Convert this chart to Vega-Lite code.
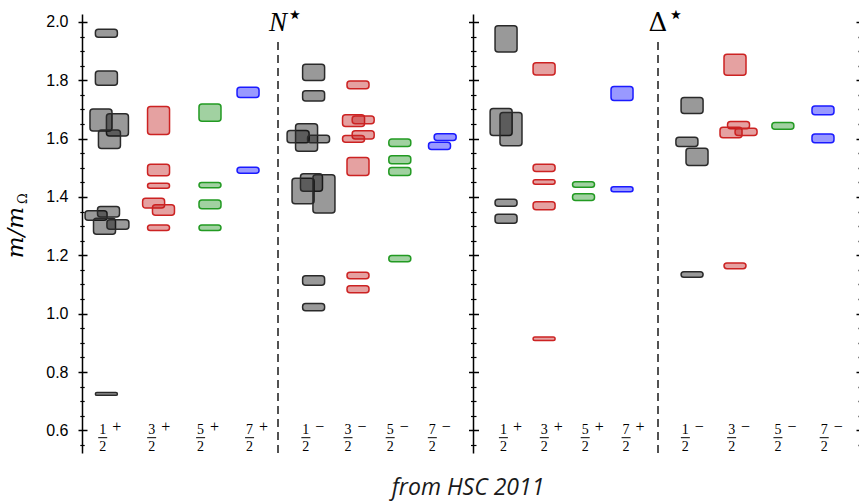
{
  "$schema": "https://vega.github.io/schema/vega-lite/v6.json",
  "autosize": {"type": "pad"},
  "padding": {"left": 4, "top": 1, "right": 0, "bottom": 0},
  "background": "white",
  "datasets": {
    "boxes": [
      {"grp": "N+", "J": "1/2", "lo": 1.948, "hi": 1.975, "nudge": -0.14},
      {"grp": "N+", "J": "1/2", "lo": 1.783, "hi": 1.832, "nudge": -0.14},
      {"grp": "N+", "J": "1/2", "lo": 1.626, "hi": 1.702, "nudge": -0.37},
      {"grp": "N+", "J": "1/2", "lo": 1.609, "hi": 1.685, "nudge": 0.33},
      {"grp": "N+", "J": "1/2", "lo": 1.566, "hi": 1.63, "nudge": -0.01},
      {"grp": "N+", "J": "1/2", "lo": 1.32, "hi": 1.353, "nudge": -0.58},
      {"grp": "N+", "J": "1/2", "lo": 1.331, "hi": 1.367, "nudge": -0.05},
      {"grp": "N+", "J": "1/2", "lo": 1.272, "hi": 1.327, "nudge": -0.22},
      {"grp": "N+", "J": "1/2", "lo": 1.289, "hi": 1.322, "nudge": 0.35},
      {"grp": "N+", "J": "1/2", "lo": 0.72, "hi": 0.73, "nudge": -0.14},
      {"grp": "N+", "J": "3/2", "lo": 1.614, "hi": 1.71, "nudge": 0.06},
      {"grp": "N+", "J": "3/2", "lo": 1.473, "hi": 1.512, "nudge": 0.06},
      {"grp": "N+", "J": "3/2", "lo": 1.43, "hi": 1.447, "nudge": 0.06},
      {"grp": "N+", "J": "3/2", "lo": 1.362, "hi": 1.396, "nudge": -0.15},
      {"grp": "N+", "J": "3/2", "lo": 1.337, "hi": 1.373, "nudge": 0.27},
      {"grp": "N+", "J": "3/2", "lo": 1.285, "hi": 1.304, "nudge": 0.06},
      {"grp": "N+", "J": "5/2", "lo": 1.66, "hi": 1.719, "nudge": 0.23},
      {"grp": "N+", "J": "5/2", "lo": 1.432, "hi": 1.45, "nudge": 0.23},
      {"grp": "N+", "J": "5/2", "lo": 1.36, "hi": 1.39, "nudge": 0.23},
      {"grp": "N+", "J": "5/2", "lo": 1.285, "hi": 1.304, "nudge": 0.23},
      {"grp": "N+", "J": "7/2", "lo": 1.741, "hi": 1.776, "nudge": -0.17},
      {"grp": "N+", "J": "7/2", "lo": 1.481, "hi": 1.502, "nudge": -0.17},

      {"grp": "N-", "J": "1/2", "lo": 1.799, "hi": 1.855, "nudge": -0.03},
      {"grp": "N-", "J": "1/2", "lo": 1.729, "hi": 1.764, "nudge": -0.03},
      {"grp": "N-", "J": "1/2", "lo": 1.586, "hi": 1.628, "nudge": -0.69},
      {"grp": "N-", "J": "1/2", "lo": 1.557, "hi": 1.651, "nudge": -0.33},
      {"grp": "N-", "J": "1/2", "lo": 1.586, "hi": 1.612, "nudge": 0.18},
      {"grp": "N-", "J": "1/2", "lo": 1.377, "hi": 1.464, "nudge": -0.48},
      {"grp": "N-", "J": "1/2", "lo": 1.42, "hi": 1.48, "nudge": -0.12},
      {"grp": "N-", "J": "1/2", "lo": 1.345, "hi": 1.476, "nudge": 0.41},
      {"grp": "N-", "J": "1/2", "lo": 1.097, "hi": 1.13, "nudge": -0.03},
      {"grp": "N-", "J": "1/2", "lo": 1.01, "hi": 1.035, "nudge": -0.03},
      {"grp": "N-", "J": "3/2", "lo": 1.771, "hi": 1.798, "nudge": 0.04},
      {"grp": "N-", "J": "3/2", "lo": 1.642, "hi": 1.682, "nudge": -0.15},
      {"grp": "N-", "J": "3/2", "lo": 1.651, "hi": 1.678, "nudge": 0.26},
      {"grp": "N-", "J": "3/2", "lo": 1.599, "hi": 1.627, "nudge": 0.26},
      {"grp": "N-", "J": "3/2", "lo": 1.588, "hi": 1.611, "nudge": -0.15},
      {"grp": "N-", "J": "3/2", "lo": 1.474, "hi": 1.535, "nudge": 0.04},
      {"grp": "N-", "J": "3/2", "lo": 1.12, "hi": 1.142, "nudge": 0.04},
      {"grp": "N-", "J": "3/2", "lo": 1.072, "hi": 1.096, "nudge": 0.04},
      {"grp": "N-", "J": "5/2", "lo": 1.573, "hi": 1.599, "nudge": 0},
      {"grp": "N-", "J": "5/2", "lo": 1.514, "hi": 1.541, "nudge": 0},
      {"grp": "N-", "J": "5/2", "lo": 1.474, "hi": 1.501, "nudge": 0},
      {"grp": "N-", "J": "5/2", "lo": 1.178, "hi": 1.199, "nudge": 0},
      {"grp": "N-", "J": "7/2", "lo": 1.594, "hi": 1.617, "nudge": 0.11},
      {"grp": "N-", "J": "7/2", "lo": 1.563, "hi": 1.588, "nudge": -0.13},

      {"grp": "D+", "J": "1/2", "lo": 1.897, "hi": 1.987, "nudge": 0.01},
      {"grp": "D+", "J": "1/2", "lo": 1.611, "hi": 1.703, "nudge": -0.2},
      {"grp": "D+", "J": "1/2", "lo": 1.576, "hi": 1.69, "nudge": 0.22},
      {"grp": "D+", "J": "1/2", "lo": 1.368, "hi": 1.392, "nudge": 0.01},
      {"grp": "D+", "J": "1/2", "lo": 1.31, "hi": 1.341, "nudge": 0.01},
      {"grp": "D+", "J": "3/2", "lo": 1.818, "hi": 1.86, "nudge": -0.02},
      {"grp": "D+", "J": "3/2", "lo": 1.487, "hi": 1.512, "nudge": -0.02},
      {"grp": "D+", "J": "3/2", "lo": 1.444, "hi": 1.459, "nudge": -0.02},
      {"grp": "D+", "J": "3/2", "lo": 1.356, "hi": 1.384, "nudge": -0.02},
      {"grp": "D+", "J": "3/2", "lo": 0.908, "hi": 0.92, "nudge": -0.02},
      {"grp": "D+", "J": "5/2", "lo": 1.433, "hi": 1.452, "nudge": 0.01},
      {"grp": "D+", "J": "5/2", "lo": 1.388, "hi": 1.411, "nudge": 0.01},
      {"grp": "D+", "J": "7/2", "lo": 1.731, "hi": 1.779, "nudge": 0},
      {"grp": "D+", "J": "7/2", "lo": 1.418, "hi": 1.435, "nudge": 0},

      {"grp": "D-", "J": "1/2", "lo": 1.686, "hi": 1.741, "nudge": 0},
      {"grp": "D-", "J": "1/2", "lo": 1.573, "hi": 1.605, "nudge": -0.22},
      {"grp": "D-", "J": "1/2", "lo": 1.508, "hi": 1.567, "nudge": 0.21},
      {"grp": "D-", "J": "1/2", "lo": 1.125, "hi": 1.144, "nudge": 0},
      {"grp": "D-", "J": "3/2", "lo": 1.817, "hi": 1.889, "nudge": -0.05},
      {"grp": "D-", "J": "3/2", "lo": 1.634, "hi": 1.659, "nudge": 0.1},
      {"grp": "D-", "J": "3/2", "lo": 1.603, "hi": 1.639, "nudge": -0.22},
      {"grp": "D-", "J": "3/2", "lo": 1.611, "hi": 1.636, "nudge": 0.42},
      {"grp": "D-", "J": "3/2", "lo": 1.154, "hi": 1.174, "nudge": -0.05},
      {"grp": "D-", "J": "5/2", "lo": 1.632, "hi": 1.655, "nudge": 0.11},
      {"grp": "D-", "J": "7/2", "lo": 1.682, "hi": 1.712, "nudge": -0.06},
      {"grp": "D-", "J": "7/2", "lo": 1.586, "hi": 1.616, "nudge": -0.06}
    ],
    "columns": [
      {"grp": "N+", "J": "1/2", "num": "1", "sign": "+"},
      {"grp": "N+", "J": "3/2", "num": "3", "sign": "+"},
      {"grp": "N+", "J": "5/2", "num": "5", "sign": "+"},
      {"grp": "N+", "J": "7/2", "num": "7", "sign": "+"},
      {"grp": "N-", "J": "1/2", "num": "1", "sign": "−"},
      {"grp": "N-", "J": "3/2", "num": "3", "sign": "−"},
      {"grp": "N-", "J": "5/2", "num": "5", "sign": "−"},
      {"grp": "N-", "J": "7/2", "num": "7", "sign": "−"},
      {"grp": "D+", "J": "1/2", "num": "1", "sign": "+"},
      {"grp": "D+", "J": "3/2", "num": "3", "sign": "+"},
      {"grp": "D+", "J": "5/2", "num": "5", "sign": "+"},
      {"grp": "D+", "J": "7/2", "num": "7", "sign": "+"},
      {"grp": "D-", "J": "1/2", "num": "1", "sign": "−"},
      {"grp": "D-", "J": "3/2", "num": "3", "sign": "−"},
      {"grp": "D-", "J": "5/2", "num": "5", "sign": "−"},
      {"grp": "D-", "J": "7/2", "num": "7", "sign": "−"}
    ]
  },
  "title": {
    "text": "from HSC 2011",
    "orient": "bottom",
    "anchor": "middle",
    "frame": "group",
    "dx": 386,
    "font": "Open Sans",
    "fontStyle": "italic",
    "fontWeight": "normal",
    "fontSize": 23,
    "color": "#1a1a1a",
    "offset": 23
  },
  "spacing": 0,
  "bounds": "flush",
  "hconcat": [
    {
      "width": 196,
      "height": 439,
      "layer": [
        {
          "data": {"name": "boxes"},
          "transform": [{"filter": "datum.grp === 'N+'"}],
          "mark": {"type": "bar", "orient": "vertical", "size": 22, "cornerRadius": 3, "fillOpacity": 0.4, "strokeWidth": 1.5},
          "encoding": {
            "x": {"field": "J", "type": "nominal", "scale": {"type": "point", "domain": ["1/2", "3/2", "5/2", "7/2"], "padding": 0.5653, "align": 0.516}, "axis": null},
            "xOffset": {"field": "nudge", "type": "quantitative", "scale": {"domain": [-1, 1], "range": [-23.5, 23.5]}},
            "y": {"field": "lo", "type": "quantitative", "scale": {"domain": [0.5223, 2.0274], "nice": false, "zero": false},
              "axis": {"orient": "left", "values": [0.6, 0.8, 1, 1.2, 1.4, 1.6, 1.8, 2], "format": ".1f", "domain": true, "domainWidth": 1.5, "domainColor": "#000", "ticks": false, "tickSize": 0, "labelPadding": 14, "labelFont": "Liberation Sans", "labelFontSize": 16, "labelColor": "#000", "grid": false,
                "title": "m/m", "titleFont": "DejaVu Serif", "titleFontStyle": "italic", "titleFontWeight": "normal", "titleFontSize": 23, "titlePadding": 18, "titleY": 218, "titleColor": "#000"}},
            "y2": {"field": "hi"},
            "fill": {"field": "J", "type": "nominal", "scale": {"domain": ["1/2", "3/2", "5/2", "7/2"], "range": ["#000000", "#be1414", "#148c14", "#0000ff"]}, "legend": null},
            "stroke": {"field": "J", "type": "nominal", "scale": {"domain": ["1/2", "3/2", "5/2", "7/2"], "range": ["#2a2a2a", "#cc2222", "#229a22", "#1a1aff"]}, "legend": null}
          }
        },
        {
          "data": {"name": "columns"},
          "transform": [{"filter": "datum.grp === 'N+'"}],
          "mark": {"type": "text", "font": "Liberation Serif", "fontSize": 14, "align": "center", "baseline": "alphabetic", "dx": -7.5, "color": "#000"},
          "encoding": {
            "x": {"field": "J", "type": "nominal", "scale": {"type": "point", "domain": ["1/2", "3/2", "5/2", "7/2"], "padding": 0.502, "align": 0.574}, "axis": null},
            "y": {"datum": 0.5875, "type": "quantitative", "scale": {"domain": [0.5223, 2.0274], "nice": false, "zero": false},
              "axis": {"orient": "left", "offset": -5, "values": [0.6, 0.8, 1, 1.2, 1.4, 1.6, 1.8, 2], "domain": false, "labels": false, "ticks": true, "tickSize": 9, "tickWidth": 1.5, "tickColor": "#000", "grid": false, "title": null}},
            "text": {"field": "num"}
          }
        },
        {
          "data": {"name": "columns"},
          "transform": [{"filter": "datum.grp === 'N+'"}],
          "mark": {"type": "tick", "orient": "horizontal", "size": 9, "thickness": 1, "xOffset": -7.5, "color": "#000", "opacity": 1},
          "encoding": {
            "x": {"field": "J", "type": "nominal", "scale": {"type": "point", "domain": ["1/2", "3/2", "5/2", "7/2"], "padding": 0.502, "align": 0.574}, "axis": null},
            "y": {"datum": 0.5748, "type": "quantitative", "scale": {"domain": [0.5223, 2.0274], "nice": false, "zero": false},
              "axis": {"orient": "left", "offset": -2.2, "values": [0.55, 0.65, 0.7, 0.75, 0.85, 0.9, 0.95, 1.05, 1.1, 1.15, 1.25, 1.3, 1.35, 1.45, 1.5, 1.55, 1.65, 1.7, 1.75, 1.85, 1.9, 1.95], "domain": false, "labels": false, "ticks": true, "tickSize": 4.4, "tickWidth": 1.2, "tickColor": "#000", "grid": false,
                "title": "Ω", "titleFont": "DejaVu Serif", "titleFontStyle": "normal", "titleFontWeight": "normal", "titleFontSize": 13, "titleX": -55, "titleY": 184, "titleBaseline": "bottom", "titleColor": "#000"}}
          }
        },
        {
          "data": {"name": "columns"},
          "transform": [{"filter": "datum.grp === 'N+'"}],
          "mark": {"type": "text", "font": "Liberation Serif", "fontSize": 14, "align": "center", "baseline": "alphabetic", "dx": -7.5, "color": "#000"},
          "encoding": {
            "x": {"field": "J", "type": "nominal", "scale": {"type": "point", "domain": ["1/2", "3/2", "5/2", "7/2"], "padding": 0.502, "align": 0.574}, "axis": null},
            "y": {"datum": 0.5291, "type": "quantitative", "scale": {"domain": [0.5223, 2.0274], "nice": false, "zero": false}, "axis": null},
            "text": {"value": "2"}
          }
        },
        {
          "data": {"name": "columns"},
          "transform": [{"filter": "datum.grp === 'N+'"}],
          "mark": {"type": "text", "font": "Liberation Serif", "fontSize": 16, "align": "center", "baseline": "alphabetic", "dx": 6.5, "color": "#000"},
          "encoding": {
            "x": {"field": "J", "type": "nominal", "scale": {"type": "point", "domain": ["1/2", "3/2", "5/2", "7/2"], "padding": 0.502, "align": 0.574}, "axis": null},
            "y": {"datum": 0.5926, "type": "quantitative", "scale": {"domain": [0.5223, 2.0274], "nice": false, "zero": false}, "axis": null},
            "text": {"field": "sign"}
          }
        }
      ],
      "resolve": {"scale": {"x": "independent"}, "axis": {"x": "independent", "y": "independent"}}
    },
    {
      "width": 195,
      "height": 439,
      "layer": [
        {
          "data": {"name": "boxes"},
          "transform": [{"filter": "datum.grp === 'N-'"}],
          "mark": {"type": "bar", "orient": "vertical", "size": 22, "cornerRadius": 3, "fillOpacity": 0.4, "strokeWidth": 1.5},
          "encoding": {
            "x": {"field": "J", "type": "nominal", "scale": {"type": "point", "domain": ["1/2", "3/2", "5/2", "7/2"], "padding": 0.7807, "align": 0.544}, "axis": null},
            "xOffset": {"field": "nudge", "type": "quantitative", "scale": {"domain": [-1, 1], "range": [-23.5, 23.5]}},
            "y": {"field": "lo", "type": "quantitative", "scale": {"domain": [0.5223, 2.0274], "nice": false, "zero": false},
              "axis": {"orient": "right", "domain": true, "domainWidth": 1.5, "domainColor": "#000", "ticks": false, "labels": false, "grid": false, "title": null}},
            "y2": {"field": "hi"},
            "fill": {"field": "J", "type": "nominal", "scale": {"domain": ["1/2", "3/2", "5/2", "7/2"], "range": ["#000000", "#be1414", "#148c14", "#0000ff"]}, "legend": null},
            "stroke": {"field": "J", "type": "nominal", "scale": {"domain": ["1/2", "3/2", "5/2", "7/2"], "range": ["#2a2a2a", "#cc2222", "#229a22", "#1a1aff"]}, "legend": null}
          }
        },
        {
          "data": {"name": "columns"},
          "transform": [{"filter": "datum.grp === 'N-'"}],
          "mark": {"type": "text", "font": "Liberation Serif", "fontSize": 14, "align": "center", "baseline": "alphabetic", "dx": -7.5, "color": "#000"},
          "encoding": {
            "x": {"field": "J", "type": "nominal", "scale": {"type": "point", "domain": ["1/2", "3/2", "5/2", "7/2"], "padding": 0.813, "align": 0.516}, "axis": null},
            "y": {"datum": 0.5875, "type": "quantitative", "scale": {"domain": [0.5223, 2.0274], "nice": false, "zero": false},
              "axis": {"orient": "right", "offset": -4.5, "values": [0.6, 0.8, 1, 1.2, 1.4, 1.6, 1.8, 2], "domain": false, "labels": false, "ticks": true, "tickSize": 10, "tickWidth": 1.5, "tickColor": "#000", "grid": false, "title": null}},
            "text": {"field": "num"}
          }
        },
        {
          "data": {"name": "columns"},
          "transform": [{"filter": "datum.grp === 'N-'"}],
          "mark": {"type": "tick", "orient": "horizontal", "size": 9, "thickness": 1, "xOffset": -7.5, "color": "#000", "opacity": 1},
          "encoding": {
            "x": {"field": "J", "type": "nominal", "scale": {"type": "point", "domain": ["1/2", "3/2", "5/2", "7/2"], "padding": 0.813, "align": 0.516}, "axis": null},
            "y": {"datum": 0.5748, "type": "quantitative", "scale": {"domain": [0.5223, 2.0274], "nice": false, "zero": false},
              "axis": {"orient": "right", "offset": -2.5, "values": [0.55, 0.65, 0.7, 0.75, 0.85, 0.9, 0.95, 1.05, 1.1, 1.15, 1.25, 1.3, 1.35, 1.45, 1.5, 1.55, 1.65, 1.7, 1.75, 1.85, 1.9, 1.95], "domain": false, "labels": false, "ticks": true, "tickSize": 5.5, "tickWidth": 1.2, "tickColor": "#000", "grid": false, "title": null}}
          }
        },
        {
          "data": {"name": "columns"},
          "transform": [{"filter": "datum.grp === 'N-'"}],
          "mark": {"type": "text", "font": "Liberation Serif", "fontSize": 14, "align": "center", "baseline": "alphabetic", "dx": -7.5, "color": "#000"},
          "encoding": {
            "x": {"field": "J", "type": "nominal", "scale": {"type": "point", "domain": ["1/2", "3/2", "5/2", "7/2"], "padding": 0.813, "align": 0.516}, "axis": null},
            "y": {"datum": 0.5291, "type": "quantitative", "scale": {"domain": [0.5223, 2.0274], "nice": false, "zero": false}, "axis": null},
            "text": {"value": "2"}
          }
        },
        {
          "data": {"name": "columns"},
          "transform": [{"filter": "datum.grp === 'N-'"}],
          "mark": {"type": "text", "font": "Liberation Serif", "fontSize": 16, "align": "center", "baseline": "alphabetic", "dx": 6.5, "color": "#000"},
          "encoding": {
            "x": {"field": "J", "type": "nominal", "scale": {"type": "point", "domain": ["1/2", "3/2", "5/2", "7/2"], "padding": 0.813, "align": 0.516}, "axis": null},
            "y": {"datum": 0.5926, "type": "quantitative", "scale": {"domain": [0.5223, 2.0274], "nice": false, "zero": false}, "axis": null},
            "text": {"field": "sign"}
          }
        },
        {
          "data": {"values": [{}]},
          "mark": {"type": "rule", "strokeDash": [8, 5], "strokeWidth": 1.5, "color": "#1a1a1a"},
          "encoding": {
            "x": {"datum": 0, "type": "quantitative", "scale": {"domain": [0, 1]}, "axis": null},
            "y": {"datum": 0.5223, "type": "quantitative", "scale": {"domain": [0.5223, 2.0274], "nice": false, "zero": false}, "axis": null},
            "y2": {"datum": 1.935}
          }
        },
        {
          "data": {"values": [{}]},
          "mark": {"type": "text", "font": "Liberation Serif", "fontStyle": "italic", "fontSize": 27, "align": "center", "baseline": "alphabetic", "color": "#000"},
          "encoding": {
            "x": {"datum": 0, "type": "quantitative", "scale": {"domain": [0, 1]}, "axis": null},
            "y": {"datum": 1.969, "type": "quantitative", "scale": {"domain": [0.5223, 2.0274], "nice": false, "zero": false}, "axis": null},
            "text": {"value": "N"}
          }
        },
        {
          "data": {"values": [{}]},
          "mark": {"type": "text", "font": "DejaVu Sans", "fontSize": 26, "align": "center", "baseline": "middle", "dx": 17, "color": "#000"},
          "encoding": {
            "x": {"datum": 0, "type": "quantitative", "scale": {"domain": [0, 1]}, "axis": null},
            "y": {"datum": 2.024, "type": "quantitative", "scale": {"domain": [0.5223, 2.0274], "nice": false, "zero": false}, "axis": null},
            "text": {"value": "⋆"}
          }
        }
      ],
      "resolve": {"scale": {"x": "independent"}, "axis": {"x": "independent", "y": "independent"}}
    },
    {
      "width": 185,
      "height": 439,
      "layer": [
        {
          "data": {"name": "boxes"},
          "transform": [{"filter": "datum.grp === 'D+'"}],
          "mark": {"type": "bar", "orient": "vertical", "size": 22, "cornerRadius": 3, "fillOpacity": 0.4, "strokeWidth": 1.5},
          "encoding": {
            "x": {"field": "J", "type": "nominal", "scale": {"type": "point", "domain": ["1/2", "3/2", "5/2", "7/2"], "padding": 0.888, "align": 0.477}, "axis": null},
            "xOffset": {"field": "nudge", "type": "quantitative", "scale": {"domain": [-1, 1], "range": [-23.5, 23.5]}},
            "y": {"field": "lo", "type": "quantitative", "scale": {"domain": [0.5223, 2.0274], "nice": false, "zero": false}, "axis": null},
            "y2": {"field": "hi"},
            "fill": {"field": "J", "type": "nominal", "scale": {"domain": ["1/2", "3/2", "5/2", "7/2"], "range": ["#000000", "#be1414", "#148c14", "#0000ff"]}, "legend": null},
            "stroke": {"field": "J", "type": "nominal", "scale": {"domain": ["1/2", "3/2", "5/2", "7/2"], "range": ["#2a2a2a", "#cc2222", "#229a22", "#1a1aff"]}, "legend": null}
          }
        },
        {
          "data": {"name": "columns"},
          "transform": [{"filter": "datum.grp === 'D+'"}],
          "mark": {"type": "text", "font": "Liberation Serif", "fontSize": 14, "align": "center", "baseline": "alphabetic", "dx": -7.5, "color": "#000"},
          "encoding": {
            "x": {"field": "J", "type": "nominal", "scale": {"type": "point", "domain": ["1/2", "3/2", "5/2", "7/2"], "padding": 0.762, "align": 0.608}, "axis": null},
            "y": {"datum": 0.5875, "type": "quantitative", "scale": {"domain": [0.5223, 2.0274], "nice": false, "zero": false}, "axis": null},
            "text": {"field": "num"}
          }
        },
        {
          "data": {"name": "columns"},
          "transform": [{"filter": "datum.grp === 'D+'"}],
          "mark": {"type": "tick", "orient": "horizontal", "size": 9, "thickness": 1, "xOffset": -7.5, "color": "#000", "opacity": 1},
          "encoding": {
            "x": {"field": "J", "type": "nominal", "scale": {"type": "point", "domain": ["1/2", "3/2", "5/2", "7/2"], "padding": 0.762, "align": 0.608}, "axis": null},
            "y": {"datum": 0.5748, "type": "quantitative", "scale": {"domain": [0.5223, 2.0274], "nice": false, "zero": false}, "axis": null}
          }
        },
        {
          "data": {"name": "columns"},
          "transform": [{"filter": "datum.grp === 'D+'"}],
          "mark": {"type": "text", "font": "Liberation Serif", "fontSize": 14, "align": "center", "baseline": "alphabetic", "dx": -7.5, "color": "#000"},
          "encoding": {
            "x": {"field": "J", "type": "nominal", "scale": {"type": "point", "domain": ["1/2", "3/2", "5/2", "7/2"], "padding": 0.762, "align": 0.608}, "axis": null},
            "y": {"datum": 0.5291, "type": "quantitative", "scale": {"domain": [0.5223, 2.0274], "nice": false, "zero": false}, "axis": null},
            "text": {"value": "2"}
          }
        },
        {
          "data": {"name": "columns"},
          "transform": [{"filter": "datum.grp === 'D+'"}],
          "mark": {"type": "text", "font": "Liberation Serif", "fontSize": 16, "align": "center", "baseline": "alphabetic", "dx": 6.5, "color": "#000"},
          "encoding": {
            "x": {"field": "J", "type": "nominal", "scale": {"type": "point", "domain": ["1/2", "3/2", "5/2", "7/2"], "padding": 0.762, "align": 0.608}, "axis": null},
            "y": {"datum": 0.5926, "type": "quantitative", "scale": {"domain": [0.5223, 2.0274], "nice": false, "zero": false}, "axis": null},
            "text": {"field": "sign"}
          }
        }
      ],
      "resolve": {"scale": {"x": "independent"}, "axis": {"x": "independent", "y": "independent"}}
    },
    {
      "width": 202,
      "height": 439,
      "layer": [
        {
          "data": {"name": "boxes"},
          "transform": [{"filter": "datum.grp === 'D-'"}],
          "mark": {"type": "bar", "orient": "vertical", "size": 22, "cornerRadius": 3, "fillOpacity": 0.4, "strokeWidth": 1.5},
          "encoding": {
            "x": {"field": "J", "type": "nominal", "scale": {"type": "point", "domain": ["1/2", "3/2", "5/2", "7/2"], "padding": 0.79, "align": 0.489}, "axis": null},
            "xOffset": {"field": "nudge", "type": "quantitative", "scale": {"domain": [-1, 1], "range": [-23.5, 23.5]}},
            "y": {"field": "lo", "type": "quantitative", "scale": {"domain": [0.5223, 2.0274], "nice": false, "zero": false}, "axis": null},
            "y2": {"field": "hi"},
            "fill": {"field": "J", "type": "nominal", "scale": {"domain": ["1/2", "3/2", "5/2", "7/2"], "range": ["#000000", "#be1414", "#148c14", "#0000ff"]}, "legend": null},
            "stroke": {"field": "J", "type": "nominal", "scale": {"domain": ["1/2", "3/2", "5/2", "7/2"], "range": ["#2a2a2a", "#cc2222", "#229a22", "#1a1aff"]}, "legend": null}
          }
        },
        {
          "data": {"name": "columns"},
          "transform": [{"filter": "datum.grp === 'D-'"}],
          "mark": {"type": "text", "font": "Liberation Serif", "fontSize": 14, "align": "center", "baseline": "alphabetic", "dx": -7.5, "color": "#000"},
          "encoding": {
            "x": {"field": "J", "type": "nominal", "scale": {"type": "point", "domain": ["1/2", "3/2", "5/2", "7/2"], "padding": 0.682, "align": 0.552}, "axis": null},
            "y": {"datum": 0.5875, "type": "quantitative", "scale": {"domain": [0.5223, 2.0274], "nice": false, "zero": false},
              "axis": {"orient": "right", "offset": -4, "values": [0.6, 0.8, 1, 1.2, 1.4, 1.6, 1.8, 2], "domain": false, "labels": false, "ticks": true, "tickSize": 4, "tickWidth": 1.5, "tickColor": "#000", "grid": false, "title": null}},
            "text": {"field": "num"}
          }
        },
        {
          "data": {"name": "columns"},
          "transform": [{"filter": "datum.grp === 'D-'"}],
          "mark": {"type": "tick", "orient": "horizontal", "size": 9, "thickness": 1, "xOffset": -7.5, "color": "#000", "opacity": 1},
          "encoding": {
            "x": {"field": "J", "type": "nominal", "scale": {"type": "point", "domain": ["1/2", "3/2", "5/2", "7/2"], "padding": 0.682, "align": 0.552}, "axis": null},
            "y": {"datum": 0.5748, "type": "quantitative", "scale": {"domain": [0.5223, 2.0274], "nice": false, "zero": false},
              "axis": {"orient": "right", "offset": -2, "values": [0.55, 0.65, 0.7, 0.75, 0.85, 0.9, 0.95, 1.05, 1.1, 1.15, 1.25, 1.3, 1.35, 1.45, 1.5, 1.55, 1.65, 1.7, 1.75, 1.85, 1.9, 1.95], "domain": false, "labels": false, "ticks": true, "tickSize": 2, "tickWidth": 1.5, "tickColor": "#000", "grid": false, "title": null}}
          }
        },
        {
          "data": {"name": "columns"},
          "transform": [{"filter": "datum.grp === 'D-'"}],
          "mark": {"type": "text", "font": "Liberation Serif", "fontSize": 14, "align": "center", "baseline": "alphabetic", "dx": -7.5, "color": "#000"},
          "encoding": {
            "x": {"field": "J", "type": "nominal", "scale": {"type": "point", "domain": ["1/2", "3/2", "5/2", "7/2"], "padding": 0.682, "align": 0.552}, "axis": null},
            "y": {"datum": 0.5291, "type": "quantitative", "scale": {"domain": [0.5223, 2.0274], "nice": false, "zero": false}, "axis": null},
            "text": {"value": "2"}
          }
        },
        {
          "data": {"name": "columns"},
          "transform": [{"filter": "datum.grp === 'D-'"}],
          "mark": {"type": "text", "font": "Liberation Serif", "fontSize": 16, "align": "center", "baseline": "alphabetic", "dx": 6.5, "color": "#000"},
          "encoding": {
            "x": {"field": "J", "type": "nominal", "scale": {"type": "point", "domain": ["1/2", "3/2", "5/2", "7/2"], "padding": 0.682, "align": 0.552}, "axis": null},
            "y": {"datum": 0.5926, "type": "quantitative", "scale": {"domain": [0.5223, 2.0274], "nice": false, "zero": false}, "axis": null},
            "text": {"field": "sign"}
          }
        },
        {
          "data": {"values": [{}]},
          "mark": {"type": "rule", "strokeDash": [8, 5], "strokeWidth": 1.5, "color": "#1a1a1a"},
          "encoding": {
            "x": {"datum": 0, "type": "quantitative", "scale": {"domain": [0, 1]}, "axis": null},
            "y": {"datum": 0.5223, "type": "quantitative", "scale": {"domain": [0.5223, 2.0274], "nice": false, "zero": false}, "axis": null},
            "y2": {"datum": 1.935}
          }
        },
        {
          "data": {"values": [{}]},
          "mark": {"type": "text", "font": "DejaVu Serif", "fontSize": 26, "align": "center", "baseline": "alphabetic", "color": "#000"},
          "encoding": {
            "x": {"datum": 0, "type": "quantitative", "scale": {"domain": [0, 1]}, "axis": null},
            "y": {"datum": 1.969, "type": "quantitative", "scale": {"domain": [0.5223, 2.0274], "nice": false, "zero": false}, "axis": null},
            "text": {"value": "Δ"}
          }
        },
        {
          "data": {"values": [{}]},
          "mark": {"type": "text", "font": "DejaVu Sans", "fontSize": 26, "align": "center", "baseline": "middle", "dx": 18, "color": "#000"},
          "encoding": {
            "x": {"datum": 0, "type": "quantitative", "scale": {"domain": [0, 1]}, "axis": null},
            "y": {"datum": 2.024, "type": "quantitative", "scale": {"domain": [0.5223, 2.0274], "nice": false, "zero": false}, "axis": null},
            "text": {"value": "⋆"}
          }
        }
      ],
      "resolve": {"scale": {"x": "independent"}, "axis": {"x": "independent", "y": "independent"}}
    }
  ],
  "config": {
    "view": {"stroke": null},
    "axis": {"grid": false}
  }
}
